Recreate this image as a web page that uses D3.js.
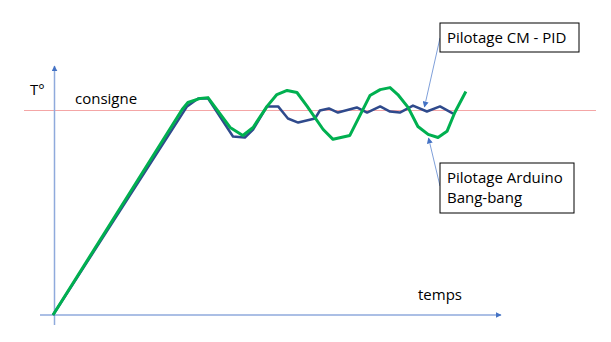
<!DOCTYPE html>
<html><head><meta charset="utf-8">
<script src="https://cdn.jsdelivr.net/npm/d3@7"></script>
<style>body{margin:0;background:#fff}svg{display:block}text{font-family:"Open Sans","Noto Sans",sans-serif;fill:#000}</style>
</head><body><svg id="c" width="611" height="342"></svg>
<script>
// time (arbitrary units) and temperature (% of setpoint)
const consigne = 100;
const bangTime = [0,31.5,32.9,35.9,37.8,43.2,46.3,48.8,52.2,54.6,57.1,59.5,62,65.9,68.3,72.4,77.3,79.8,82.2,84.1,86.6,89,91.5,93.9,96.1,98,100.7];
const bangTemp = [0,100.5,103.9,105.9,106.3,91.7,87.8,91.7,102,107.8,109.8,108.8,102,90.7,85.9,87.8,107.3,110.2,111.2,107.8,101.5,92.2,88.3,86.8,89.8,99,109.3];
const pidTime = [0,32.7,35.4,37.8,43.9,46.8,48.8,52.2,54.9,57.3,59.8,63.9,65.1,67.3,69.5,74.1,76.6,79.8,82.2,84.6,87.8,91.2,94.4,97.6];
const pidTemp = [0,102,105.9,105.9,87.3,86.8,90.7,102,102,96.1,94.1,96.1,100,101,99,101.5,99,102,99.5,99,102.4,99.5,102,98.5];
const labels = {y:"T°", x:"temps", setpoint:"consigne", pid:["Pilotage CM - PID"], bang:["Pilotage Arduino","Bang-bang"]};

const svg = d3.select("#c");
const x = d3.scaleLinear().domain([0,100]).range([53,463]);
const y = d3.scaleLinear().domain([0,100]).range([315,110.5]);

const defs = svg.append("defs");
function marker(id,w,h){
  defs.append("marker").attr("id",id).attr("viewBox","0 0 10 10").attr("refX",9).attr("refY",5)
    .attr("markerWidth",w).attr("markerHeight",h).attr("orient","auto-start-reverse").attr("markerUnits","userSpaceOnUse")
    .attr("preserveAspectRatio","none")
    .append("path").attr("d","M0,0L10,5L0,10z").attr("fill","#4472C4");
}
marker("ax",6,6); marker("ld",6,6);

// setpoint line
svg.append("line").attr("x1",24).attr("x2",596).attr("y1",y(consigne)).attr("y2",y(consigne))
  .attr("stroke","#F4A6A6").attr("stroke-width",1);

// axes
svg.append("line").attr("x1",54.5).attr("x2",54.5).attr("y1",325).attr("y2",66)
  .attr("stroke","#8FAADC").attr("stroke-width",1.5).attr("marker-end","url(#ax)");
svg.append("line").attr("x1",40).attr("x2",501).attr("y1",y(0)).attr("y2",y(0))
  .attr("stroke","#8FAADC").attr("stroke-width",1.5).attr("marker-end","url(#ax)");

const line = d3.line().x(d=>x(d[0])).y(d=>y(d[1]));
svg.append("path").datum(pidTime.map((t,i)=>[t,pidTemp[i]])).attr("d",line)
  .attr("fill","none").attr("stroke","#2F4A8C").attr("stroke-width",2.5).attr("stroke-linejoin","round");
svg.append("path").datum(bangTime.map((t,i)=>[t,bangTemp[i]])).attr("d",line)
  .attr("fill","none").attr("stroke","#00B050").attr("stroke-width",3).attr("stroke-linejoin","round");

// labels
svg.append("text").attr("x",30).attr("y",95).attr("font-size",15).text(labels.y);
svg.append("text").attr("x",75).attr("y",104).attr("font-size",15).text(labels.setpoint);
svg.append("text").attr("x",418).attr("y",300).attr("font-size",15).text(labels.x);

// callouts
svg.append("line").attr("x1",440).attr("y1",38).attr("x2",x(90.6)).attr("y2",107)
  .attr("stroke","#7FA0DA").attr("stroke-width",1).attr("marker-end","url(#ld)");
svg.append("line").attr("x1",440).attr("y1",186).attr("x2",x(91.6)).attr("y2",138)
  .attr("stroke","#7FA0DA").attr("stroke-width",1).attr("marker-end","url(#ld)");

svg.append("rect").attr("x",440).attr("y",23).attr("width",139).attr("height",29)
  .attr("fill","#fff").attr("stroke","#000").attr("stroke-width",1);
svg.append("text").attr("x",447).attr("y",43).attr("font-size",15).text(labels.pid[0]);
svg.append("rect").attr("x",440).attr("y",163).attr("width",134).attr("height",50)
  .attr("fill","#fff").attr("stroke","#000").attr("stroke-width",1);
svg.selectAll("text.b").data(labels.bang).enter().append("text").attr("class","b")
  .attr("x",447).attr("y",(d,i)=>183+i*20).attr("font-size",15).text(d=>d);
</script></body></html>
